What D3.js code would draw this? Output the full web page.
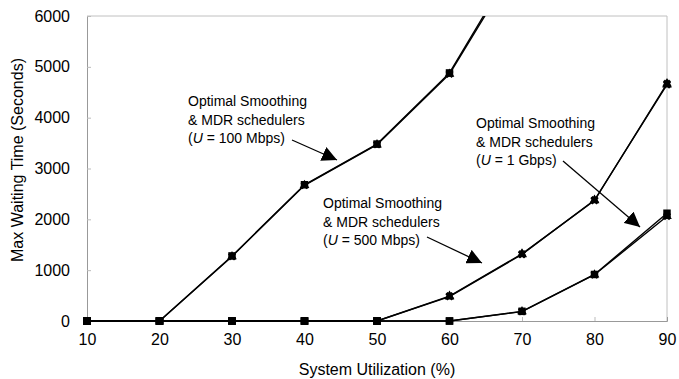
<!DOCTYPE html>
<html><head><meta charset="utf-8">
<script src="https://cdn.jsdelivr.net/npm/d3@7"></script>
<style>body{margin:0;background:#fff}svg{display:block}</style>
</head><body>
<script>
const utilization = [10,20,30,40,50,60,70,80,90];
const u100Optimal = [0,0,1280,2680,3480,4880,7270,null,null];
const u100MDR     = [0,0,1270,2670,3470,4860,7200,null,null];
const u500Optimal = [0,0,0,0,0,490,1320,2370,4670];
const u500MDR     = [0,0,0,0,0,480,1310,2380,4650];
const u1gOptimal  = [0,0,0,0,0,0,190,915,2120];
const u1gMDR      = [0,0,0,0,0,0,185,910,2060];
const yTicks = [0,1000,2000,3000,4000,5000,6000];
const xTicks = [10,20,30,40,50,60,70,80,90];
const annotations = [
  {lines:["Optimal Smoothing","& MDR schedulers","(U = 100 Mbps)"], unit:"100 Mbps"},
  {lines:["Optimal Smoothing","& MDR schedulers","(U = 500 Mbps)"], unit:"500 Mbps"},
  {lines:["Optimal Smoothing","& MDR schedulers","(U = 1 Gbps)"], unit:"1 Gbps"}
];

const W=679,H=379;
const m={l:87,r:12,t:16,b:58};
const svg=d3.select("body").append("svg").attr("width",W).attr("height",H);
const x=d3.scaleLinear().domain([10,90]).range([m.l,W-m.r]);
const y=d3.scaleLinear().domain([0,6000]).range([H-m.b,m.t]);
const font="Liberation Sans, Arial, sans-serif";

svg.append("defs").append("clipPath").attr("id","clip")
  .append("rect").attr("x",m.l-10).attr("y",m.t).attr("width",W-m.r-m.l+20).attr("height",H-m.b-m.t+10);
svg.select("defs").append("marker").attr("id","ah").attr("viewBox","0 0 10 10")
  .attr("refX",10).attr("refY",5).attr("markerWidth",15).attr("markerHeight",15)
  .attr("markerUnits","userSpaceOnUse").attr("orient","auto")
  .append("path").attr("d","M0,0 L10,5 L0,10 Z").attr("fill","#000");

svg.append("path").attr("d",`M${x(10)},${y(6000)}H${x(90)}V${y(0)}`)
  .attr("fill","none").attr("stroke","#c0c0c0").attr("stroke-width",1);

const yAxis=d3.axisLeft(y).tickValues(yTicks).tickSize(-4).tickPadding(17).tickFormat(d3.format("d"));
const gy=svg.append("g").attr("transform",`translate(${x(10)},0)`).call(yAxis);
const xAxis=d3.axisBottom(x).tickValues(xTicks).tickSize(-4).tickPadding(13);
const gx=svg.append("g").attr("transform",`translate(0,${y(0)})`).call(xAxis);
[gx,gy].forEach(g=>{
  g.select(".domain").attr("stroke","#999");
  g.selectAll(".tick line").attr("stroke","#bbb");
  g.selectAll("text").attr("font-family",font).attr("font-size",16).attr("fill","#000");
});
gx.selectAll(".tick line").filter(d=>d===10||d===90).remove();

svg.append("text").attr("x",377).attr("y",375).attr("text-anchor","middle")
  .attr("font-family",font).attr("font-size",16).text("System Utilization (%)");
svg.append("text").attr("transform","translate(23,160) rotate(-90)").attr("text-anchor","middle")
  .attr("font-family",font).attr("font-size",16).text("Max Waiting Time (Seconds)");

const series=[u100Optimal,u100MDR,u500Optimal,u500MDR,u1gOptimal,u1gMDR];
const line=d3.line().defined(d=>d[1]!=null).x(d=>x(d[0])).y(d=>y(d[1]));
const plot=svg.append("g").attr("clip-path","url(#clip)");
series.forEach(s=>{
  plot.append("path").datum(utilization.map((u,i)=>[u,s[i]]))
    .attr("d",line).attr("fill","none").attr("stroke","#000").attr("stroke-width",1.4);
});
const sq=d3.symbol().type(d3.symbolSquare).size(56);
const tri=d3.symbol().type(d3.symbolTriangle).size(40);
const cross=d3.symbol().type(d3.symbolCross).size(40);
function drawMarkers(s,kind){
  utilization.forEach((u,i)=>{
    const v=s[i]; if(v==null||v>6000) return;
    const g=plot.append("g").attr("transform",`translate(${x(u)},${y(v)})`);
    if(kind==="sq"||v===0) g.append("path").attr("d",sq()).attr("fill","#000");
    else {
      g.append("path").attr("d",tri()).attr("fill","#000");
      g.append("path").attr("d",cross()).attr("transform","rotate(45)").attr("fill","#000");
    }
  });
}
drawMarkers(u100MDR,"x");drawMarkers(u100Optimal,"sq");
drawMarkers(u500Optimal,"x");drawMarkers(u500MDR,"x");
drawMarkers(u1gMDR,"x");drawMarkers(u1gOptimal,"sq");

const annPos=[
  {tx:188,ty:106,from:[292,140],to:[337,160]},
  {tx:323,ty:208,from:[427,237],to:[482,263]},
  {tx:476,ty:128,from:[563,161],to:[640,227]}
];
annotations.forEach((a,k)=>{
  const p=annPos[k];
  const t=svg.append("text").attr("font-family",font).attr("font-size",14);
  a.lines.forEach((ln,j)=>{
    const ts=t.append("tspan").attr("x",p.tx).attr("y",p.ty+j*18.7);
    if(j===2){
      ts.text("(");
      ts.append("tspan").attr("font-style","italic").text("U");
      ts.append("tspan").text(" = "+a.unit+")");
    } else ts.text(ln);
  });
  svg.append("line").attr("x1",p.from[0]).attr("y1",p.from[1]).attr("x2",p.to[0]).attr("y2",p.to[1])
    .attr("stroke","#000").attr("stroke-width",1.3).attr("marker-end","url(#ah)");
});
</script>
</body></html>
